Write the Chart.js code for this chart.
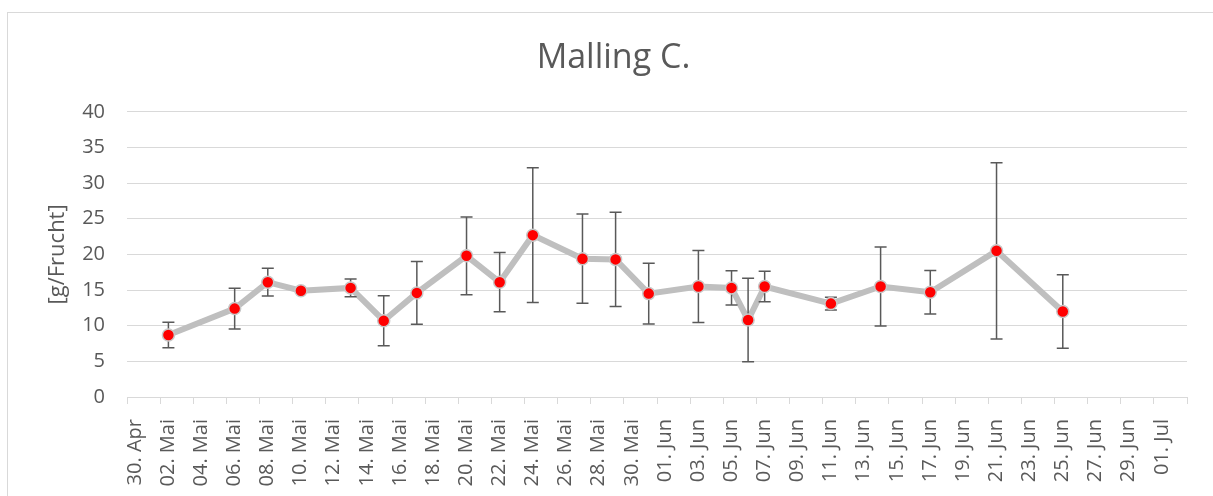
<!DOCTYPE html>
<html lang="de">
<head>
  <meta charset="UTF-8" />
  <title>Malling C.</title>
  <script src="https://cdn.jsdelivr.net/npm/chart.js"></script>
  <style>
    html, body {
      margin: 0;
      padding: 0;
      background: #ffffff;
      overflow: hidden;
    }
    #frame {
      position: absolute;
      left: 7px;
      top: 12px;
      width: 1300px;
      height: 600px;
      border: 1px solid #d9d9d9;
    }
    #wrap {
      position: absolute;
      left: 0;
      top: 0;
      width: 1213px;
      height: 496px;
    }
  </style>
</head>
<body>
  <div id="frame"></div>
  <div id="wrap"><canvas id="chart"></canvas></div>
  <script>
    const startDate = '2019-04-30';
    const dates = ['2019-05-02', '2019-05-06', '2019-05-08', '2019-05-10', '2019-05-13', '2019-05-15',
                   '2019-05-17', '2019-05-20', '2019-05-22', '2019-05-24', '2019-05-27', '2019-05-29',
                   '2019-05-31', '2019-06-03', '2019-06-05', '2019-06-06', '2019-06-07', '2019-06-11',
                   '2019-06-14', '2019-06-17', '2019-06-21', '2019-06-25'];
    const means = [8.7, 12.4, 16.1, 14.9, 15.3, 10.7, 14.6, 19.8, 16.1, 22.7, 19.4,
                   19.3, 14.5, 15.5, 15.3, 10.8, 15.5, 13.1, 15.5, 14.7, 20.5, 12.0];
    const errors = [1.8, 2.85, 1.95, 0, 1.25, 3.5, 4.4, 5.45, 4.15, 9.45, 6.25,
                    6.6, 4.25, 5.05, 2.4, 5.85, 2.15, 0.9, 5.55, 3.05, 12.35, 5.15];
    const tickLabels = ['30. Apr', '02. Mai', '04. Mai', '06. Mai', '08. Mai', '10. Mai', '12. Mai', '14. Mai',
                        '16. Mai', '18. Mai', '20. Mai', '22. Mai', '24. Mai', '26. Mai', '28. Mai', '30. Mai',
                        '01. Jun', '03. Jun', '05. Jun', '07. Jun', '09. Jun', '11. Jun', '13. Jun', '15. Jun',
                        '17. Jun', '19. Jun', '21. Jun', '23. Jun', '25. Jun', '27. Jun', '29. Jun', '01. Jul'];

    const textColor = '#595959';
    const gridColor = '#d9d9d9';
    Chart.defaults.font.family = '"Open Sans", sans-serif';

    // day index from 30. Apr, point sits in the middle of its day
    function dayOf(d) {
      return Math.round((Date.parse(d) - Date.parse(startDate)) / 86400000) + 0.5;
    }

    const points = dates.map((d, i) => ({ x: dayOf(d), y: means[i] }));

    const errorBars = {
      id: 'errorBars',
      afterDatasetDraw(chart, args) {
        if (args.index !== 0) return;
        const { ctx, scales: { x, y } } = chart;
        ctx.save();
        ctx.strokeStyle = textColor;
        ctx.lineWidth = 1.5;
        points.forEach((p, i) => {
          const e = errors[i];
          if (!e) return;
          const px = x.getPixelForValue(p.x);
          const top = y.getPixelForValue(p.y + e);
          const bot = y.getPixelForValue(p.y - e);
          ctx.beginPath();
          ctx.moveTo(px, top); ctx.lineTo(px, bot);
          ctx.moveTo(px - 6, top); ctx.lineTo(px + 6, top);
          ctx.moveTo(px - 6, bot); ctx.lineTo(px + 6, bot);
          ctx.stroke();
        });
        ctx.restore();
      }
    };

    new Chart(document.getElementById('chart'), {
      type: 'line',
      data: {
        datasets: [
          {
            data: points,
            borderColor: '#bfbfbf',
            borderWidth: 6,
            pointRadius: 0,
            tension: 0,
            order: 1
          },
          {
            data: points,
            showLine: false,
            pointRadius: 6,
            pointBackgroundColor: '#ff0000',
            pointBorderColor: '#c8c8c8',
            pointBorderWidth: 1.5,
            order: 0
          }
        ]
      },
      options: {
        responsive: true,
        maintainAspectRatio: false,
        animation: false,
        layout: { padding: { left: 40, right: 26, top: 0, bottom: 0 } },
        plugins: {
          legend: { display: false },
          tooltip: { enabled: false },
          title: {
            display: true,
            text: 'Malling C.',
            color: textColor,
            font: { size: 34, weight: 'normal' },
            padding: { top: 38, bottom: 33 }
          }
        },
        scales: {
          x: {
            type: 'linear',
            min: 0,
            max: 64,
            afterFit: s => {
              s.height = 99;
              s.paddingLeft = 0;
              s.paddingRight = 0;
            },
            ticks: {
              stepSize: 2,
              autoSkip: false,
              maxRotation: 90,
              minRotation: 90,
              labelOffset: 8,
              padding: 15,
              color: textColor,
              font: { size: 20 },
              callback: v => tickLabels[v / 2] || ''
            },
            grid: { drawOnChartArea: false, drawTicks: true, tickLength: 7, color: gridColor },
            border: { color: gridColor }
          },
          y: {
            min: 0,
            max: 40,
            afterFit: s => { s.width = 87; },
            ticks: { stepSize: 5, padding: 22, color: textColor, font: { size: 20 } },
            grid: { color: gridColor, drawTicks: false },
            border: { display: false },
            title: {
              display: true,
              text: '[g/Frucht]',
              color: textColor,
              font: { size: 22 },
              padding: { top: 5, bottom: 10 }
            }
          }
        }
      },
      plugins: [errorBars]
    });
  </script>
</body>
</html>
